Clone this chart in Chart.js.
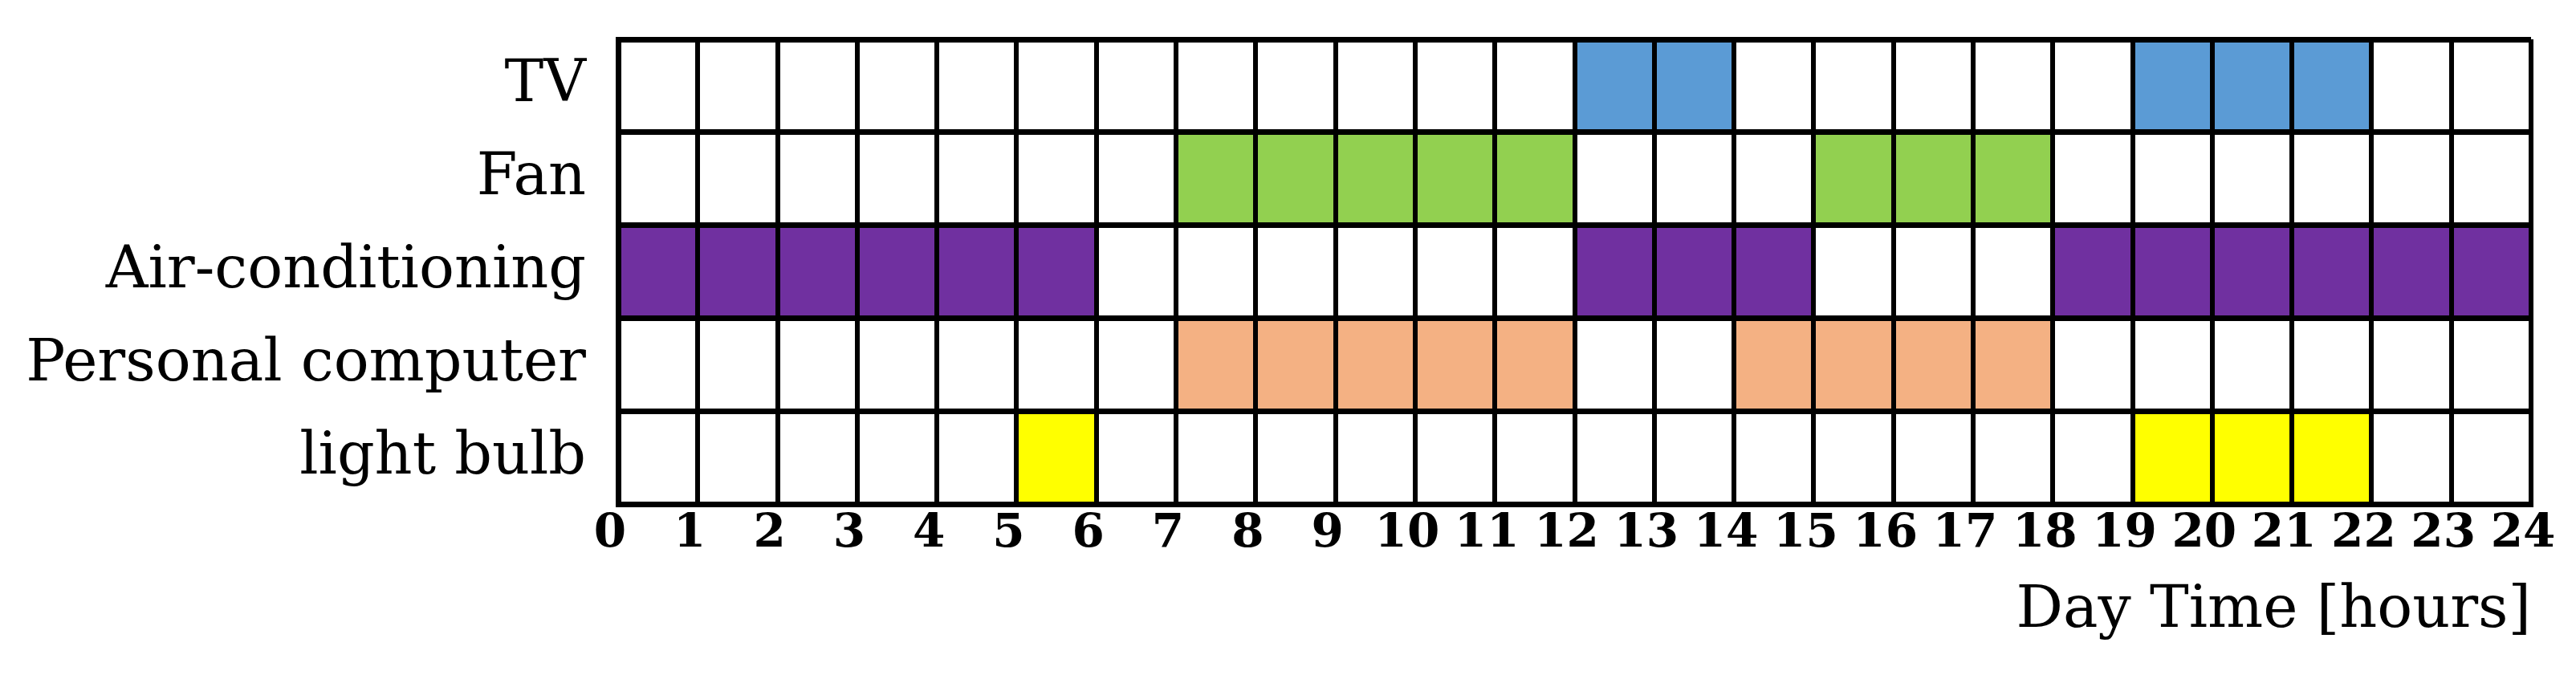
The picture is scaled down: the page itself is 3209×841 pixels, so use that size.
<!DOCTYPE html>
<html>
<head>
<meta charset="utf-8">
<script src="https://cdn.jsdelivr.net/npm/chart.js@4"></script>
<style>
  html, body { margin: 0; padding: 0; background: #ffffff; }
  #wrap { width: 3209px; height: 841px; }
</style>
</head>
<body>
<div id="wrap"><canvas id="c" width="3209" height="841"></canvas></div>
<script>
// ---- data ----
const categories = ['TV', 'Fan', 'Air-conditioning', 'Personal computer', 'light bulb'];
const hourTicks = [0,1,2,3,4,5,6,7,8,9,10,11,12,13,14,15,16,17,18,19,20,21,22,23,24];
// hours (start of each one-hour slot) when each appliance is on
const tvHours   = [12, 13, 19, 20, 21];
const fanHours  = [7, 8, 9, 10, 11, 15, 16, 17];
const acHours   = [0, 1, 2, 3, 4, 5, 12, 13, 14, 18, 19, 20, 21, 22, 23];
const pcHours   = [7, 8, 9, 10, 11, 14, 15, 16, 17];
const bulbHours = [5, 19, 20, 21];
const xTitle = 'Day Time [hours]';

const colors = ['#5B9BD5', '#92D050', '#7030A0', '#F4B183', '#FFFF00'];
const hoursPerRow = [tvHours, fanHours, acHours, pcHours, bulbHours];

const datasets = hoursPerRow.map((hours, i) => ({
  label: categories[i],
  data: hours.map(h => ({ x: [h, h + 1], y: categories[i] })),
  backgroundColor: colors[i],
  borderWidth: 0,
  barPercentage: 1,
  categoryPercentage: 1,
  grouped: false
}));

const serif = 'DejaVu Serif';

new Chart(document.getElementById('c'), {
  type: 'bar',
  data: { labels: categories, datasets },
  options: {
    indexAxis: 'y',
    responsive: false,
    animation: false,
    devicePixelRatio: 1,
    layout: { padding: { left: 0, right: 56, top: 49, bottom: 35 } },
    plugins: { legend: { display: false }, tooltip: { enabled: false } },
    scales: {
      x: {
        type: 'linear',
        min: 0, max: 24,
        afterBuildTicks: (scale) => { scale.ticks = hourTicks.map(v => ({ value: v })); },
        ticks: {
          autoSkip: false,
          maxRotation: 0,
          padding: 2,
          labelOffset: -10,
          color: '#000',
          font: { family: serif, size: 58, weight: 'bold' }
        },
        grid: { color: '#000', lineWidth: 6, drawTicks: false, z: 1 },
        border: { display: true, color: '#000', width: 7, z: 2 },
        title: {
          display: true,
          text: xTitle,
          align: 'end',
          color: '#000',
          font: { family: serif, size: 73 },
          padding: { top: 16, bottom: 0 }
        }
      },
      y: {
        type: 'category',
        offset: true,
        afterFit: (scale) => { scale.width = 770; scale.paddingTop = 0; scale.paddingBottom = 0; },
        ticks: {
          padding: 40,
          color: '#000',
          font: { family: serif, size: 73 }
        },
        grid: { color: '#000', lineWidth: 7, drawTicks: false, offset: true, z: 1 },
        border: { display: true, color: '#000', width: 7, z: 2 }
      }
    }
  }
});
</script>
</body>
</html>
